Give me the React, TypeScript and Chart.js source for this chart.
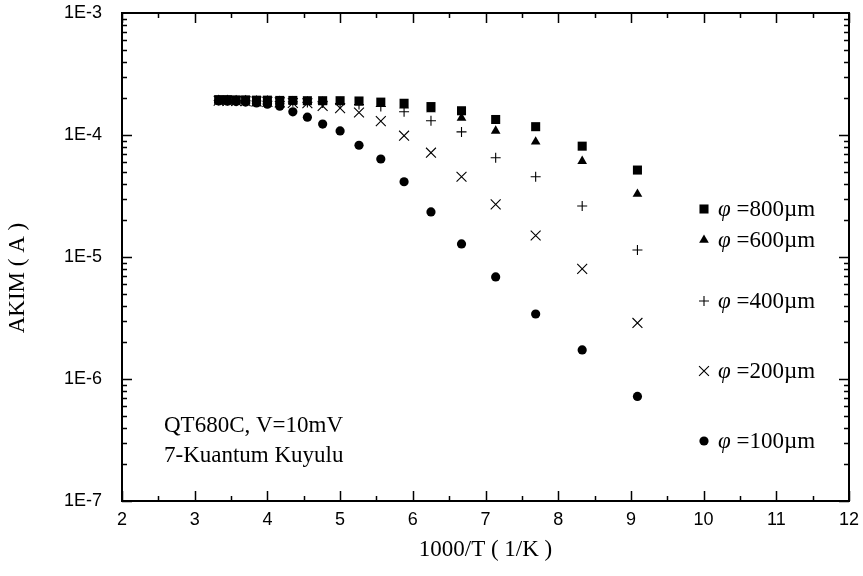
import React, { useEffect, useRef } from 'react';
import { Chart, registerables } from 'chart.js';
import { drawPoint } from 'chart.js/helpers';

Chart.register(...registerables);

// 1000/T values (1/K)
const xValues = [3.33, 3.45, 3.57, 3.70, 3.85, 4.00, 4.17, 4.35, 4.55, 4.76, 5.00, 5.26, 5.56, 5.88, 6.25, 6.67, 7.14, 7.69, 8.33, 9.09];

// current (A) for each contact diameter
const phi800 = [1.95e-4, 1.95e-4, 1.94e-4, 1.94e-4, 1.93e-4, 1.93e-4, 1.92e-4, 1.92e-4, 1.91e-4, 1.91e-4, 1.91e-4, 1.90e-4, 1.86e-4, 1.82e-4, 1.71e-4, 1.58e-4, 1.34e-4, 1.17e-4, 8.1e-5, 5.16e-5];
const phi600 = [1.93e-4, 1.93e-4, 1.92e-4, 1.92e-4, 1.91e-4, 1.91e-4, 1.90e-4, 1.89e-4, 1.88e-4, 1.87e-4, 1.86e-4, 1.84e-4, 1.79e-4, 1.74e-4, 1.62e-4, 1.38e-4, 1.08e-4, 8.8e-5, 6.1e-5, 3.28e-5];
const phi400 = [1.92e-4, 1.92e-4, 1.91e-4, 1.91e-4, 1.90e-4, 1.89e-4, 1.88e-4, 1.87e-4, 1.85e-4, 1.83e-4, 1.80e-4, 1.78e-4, 1.71e-4, 1.55e-4, 1.31e-4, 1.06e-4, 6.5e-5, 4.55e-5, 2.62e-5, 1.14e-5];
const phi200 = [1.91e-4, 1.90e-4, 1.90e-4, 1.89e-4, 1.88e-4, 1.87e-4, 1.85e-4, 1.83e-4, 1.82e-4, 1.73e-4, 1.66e-4, 1.53e-4, 1.30e-4, 9.87e-5, 7.16e-5, 4.55e-5, 2.7e-5, 1.5e-5, 8.0e-6, 2.88e-6];
const phi100 = [1.90e-4, 1.89e-4, 1.88e-4, 1.86e-4, 1.83e-4, 1.79e-4, 1.72e-4, 1.55e-4, 1.40e-4, 1.23e-4, 1.08e-4, 8.24e-5, 6.36e-5, 4.14e-5, 2.34e-5, 1.28e-5, 6.86e-6, 3.41e-6, 1.73e-6, 7.2e-7];

const seriesNames = ['800', '600', '400', '200', '100'];
const seriesValues = [phi800, phi600, phi400, phi200, phi100];

const yTickValues = [1e-7, 1e-6, 1e-5, 1e-4, 1e-3];
const yTickLabels = ['1E-7', '1E-6', '1E-5', '1E-4', '1E-3'];
const xTickValues = [2, 3, 4, 5, 6, 7, 8, 9, 10, 11, 12];

const xTitle = '1000/T ( 1/K )';
const yTitle = 'AKIM ( A )';
const noteLines = ['QT680C, V=10mV', '7-Kuantum Kuyulu'];

const SERIF = '"Liberation Serif", "Times New Roman", serif';
const SANS = '"Liberation Sans", Arial, sans-serif';

// marker style for each series
const markerStyles = [
  { pointStyle: 'rect', radius: 6.4, borderWidth: 0 },
  { pointStyle: 'triangle', radius: 5.6, borderWidth: 0 },
  { pointStyle: 'cross', radius: 5, borderWidth: 1.1 },
  { pointStyle: 'crossRot', radius: 7, borderWidth: 1.1 },
  { pointStyle: 'circle', radius: 4.6, borderWidth: 0 },
];

// legend layout (pixel rows inside the plot)
const legendMarkerX = 704;
const legendRowsY = [209, 240, 301, 371, 441];

const framePlugin = {
  id: 'frame',
  afterDraw(chart: any) {
    const { ctx, chartArea: a, scales } = chart;
    const xs = scales.x;
    const ys = scales.y;
    ctx.save();
    ctx.strokeStyle = '#000';
    ctx.lineWidth = 2;
    ctx.strokeRect(a.left, a.top, a.right - a.left, a.bottom - a.top);

    ctx.lineWidth = 1.5;
    ctx.beginPath();
    // x ticks (inward, bottom and top)
    for (let v = xs.min; v <= xs.max + 1e-9; v += 0.5) {
      const px = Math.round(xs.getPixelForValue(v)) + 0.5;
      const major = Math.abs(v - Math.round(v)) < 1e-6;
      const len = major ? 10 : 5;
      ctx.moveTo(px, a.bottom);
      ctx.lineTo(px, a.bottom - len);
      ctx.moveTo(px, a.top);
      ctx.lineTo(px, a.top + len);
    }
    // y ticks (log, inward, left and right)
    for (let k = -7; k < -3; k++) {
      for (let m = 1; m <= 9; m++) {
        const val = m * Math.pow(10, k);
        const py = Math.round(ys.getPixelForValue(val)) + 0.5;
        const len = m === 1 ? 10 : 5;
        ctx.moveTo(a.left, py);
        ctx.lineTo(a.left + len, py);
        ctx.moveTo(a.right, py);
        ctx.lineTo(a.right - len, py);
      }
    }
    ctx.stroke();

    // y axis title
    ctx.fillStyle = '#000';
    ctx.font = '23px ' + SERIF;
    ctx.textAlign = 'center';
    ctx.textBaseline = 'middle';
    ctx.save();
    ctx.translate(18, (a.top + a.bottom) / 2 + 21);
    ctx.rotate(-Math.PI / 2);
    ctx.fillText(yTitle, 0, 0);
    ctx.restore();

    // annotation
    ctx.textAlign = 'left';
    ctx.textBaseline = 'alphabetic';
    ctx.font = '23px ' + SERIF;
    noteLines.forEach((t, i) => ctx.fillText(t, 164, 432 + i * 30));

    // legend
    seriesNames.forEach((name, i) => {
      const y = legendRowsY[i];
      const st = markerStyles[i];
      ctx.fillStyle = '#000';
      ctx.strokeStyle = '#000';
      ctx.lineWidth = st.borderWidth;
      drawPoint(ctx, { pointStyle: st.pointStyle, radius: st.radius, rotation: 0, borderWidth: st.borderWidth } as any, legendMarkerX, y);
      ctx.textBaseline = 'middle';
      ctx.font = 'italic 23px ' + SERIF;
      ctx.fillText('\u03C6', 718, y + 1);
      const w = ctx.measureText('\u03C6').width;
      ctx.font = '23px ' + SERIF;
      ctx.fillText(' =' + name + '\u00B5m', 718 + w, y + 1);
    });
    ctx.restore();
  },
};

export default function App() {
  const ref = useRef<HTMLCanvasElement>(null);
  useEffect(() => {
    if (!ref.current) return;
    const datasets = seriesValues.map((vals, i) => ({
      label: '\u03C6 =' + seriesNames[i] + '\u00B5m',
      data: xValues.map((x, j) => ({ x, y: vals[j] })),
      showLine: false,
      pointStyle: markerStyles[i].pointStyle,
      pointRadius: markerStyles[i].radius,
      pointBorderWidth: markerStyles[i].borderWidth,
      backgroundColor: '#000',
      borderColor: '#000',
    }));
    const chart = new Chart(ref.current, {
      type: 'scatter',
      data: { datasets } as any,
      options: {
        animation: false,
        responsive: false,
        devicePixelRatio: 1,
        events: [],
        layout: { padding: { left: 0, top: 13, right: 14, bottom: 0 } },
        plugins: { legend: { display: false }, tooltip: { enabled: false } },
        scales: {
          x: {
            type: 'linear',
            min: 2,
            max: 12,
            grid: { display: false, drawTicks: false },
            border: { display: false },
            afterBuildTicks: (s: any) => { s.ticks = xTickValues.map((v) => ({ value: v })); },
            ticks: { color: '#000', font: { family: SANS, size: 18 }, padding: 8, maxRotation: 0, autoSkip: false },
            title: { display: true, text: xTitle, color: '#000', font: { family: SERIF, size: 23 }, padding: { top: 0, bottom: 12 } },
            afterFit: (s: any) => { s.height = 75; s.paddingLeft = 0; s.paddingRight = 0; },
          },
          y: {
            type: 'logarithmic',
            min: 1e-7,
            max: 1e-3,
            grid: { display: false, drawTicks: false },
            border: { display: false },
            afterBuildTicks: (s: any) => { s.ticks = yTickValues.map((v) => ({ value: v })); },
            ticks: {
              color: '#000',
              font: { family: SANS, size: 18 },
              padding: 20,
              autoSkip: false,
              callback: (v: any) => {
                const i = yTickValues.findIndex((t) => Math.abs(t - v) / t < 1e-6);
                return i >= 0 ? yTickLabels[i] : '';
              },
            },
            afterFit: (s: any) => { s.width = 122; s.paddingTop = 0; s.paddingBottom = 0; },
          },
        },
      } as any,
      plugins: [framePlugin],
    });
    return () => chart.destroy();
  }, []);
  return (
    <div style={{ position: 'fixed', left: 0, top: 0, width: 863, height: 576, background: '#fff' }}>
      <canvas ref={ref} width={863} height={576} style={{ display: 'block' }} />
    </div>
  );
}
